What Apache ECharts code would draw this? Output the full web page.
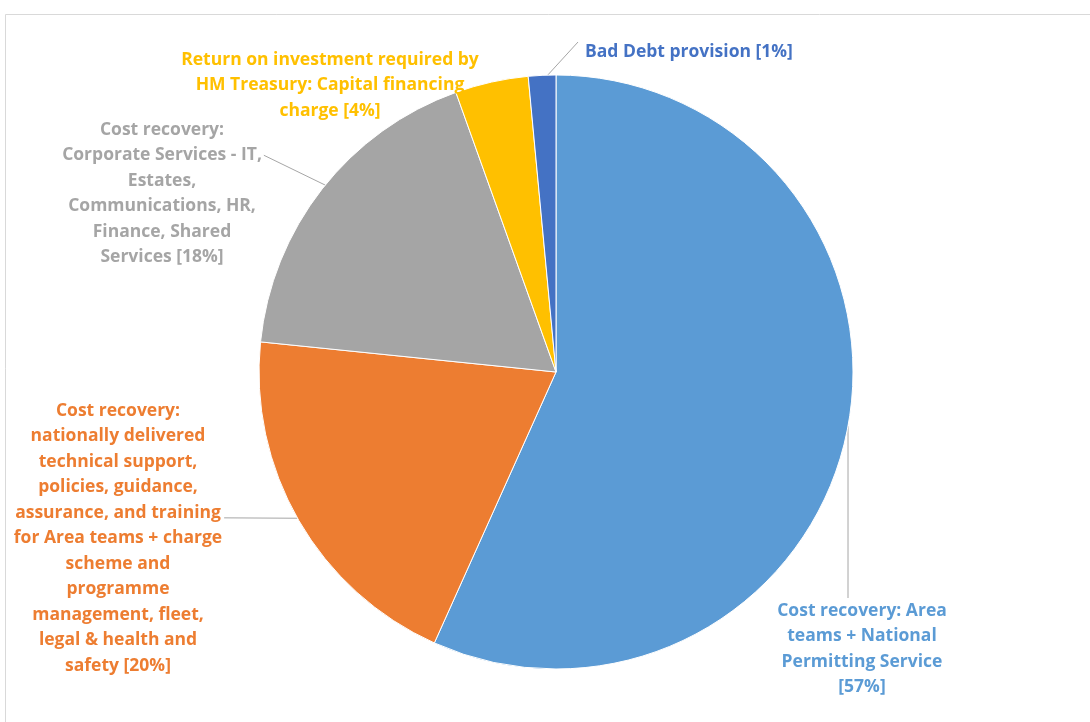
<!DOCTYPE html>
<html>
<head>
<meta charset="utf-8">
<script src="https://cdn.jsdelivr.net/npm/echarts@6/dist/echarts.min.js"></script>
<style>
  html, body { margin: 0; padding: 0; background: #fff; }
  #main { width: 1090px; height: 722px; }
</style>
</head>
<body>
<div id="main"></div>
<script>
// slice categories, clockwise from 12 o'clock
var categories = [
  'Cost recovery: Area teams + National Permitting Service',
  'Cost recovery: nationally delivered technical support, policies, guidance, assurance, and training for Area teams + charge scheme and programme management, fleet, legal & health and safety',
  'Cost recovery: Corporate Services - IT, Estates, Communications, HR, Finance, Shared Services',
  'Return on investment required by HM Treasury: Capital financing charge',
  'Bad Debt provision'
];
var shares = [57, 20, 18, 4, 1.5];
// label text as wrapped in the original
var labelLines = [
  ['Cost recovery: Area', 'teams + National', 'Permitting Service', '[57%]'],
  ['Cost recovery:', 'nationally delivered', 'technical support,', 'policies, guidance,', 'assurance, and training', 'for Area teams + charge', 'scheme and', 'programme', 'management, fleet,', 'legal & health and', 'safety [20%]'],
  ['Cost recovery:', 'Corporate Services - IT,', 'Estates,', 'Communications, HR,', 'Finance, Shared', 'Services [18%]'],
  ['Return on investment required by', 'HM Treasury: Capital financing', 'charge [4%]'],
  ['Bad Debt provision [1%]']
];
var colors = ['#5B9BD5', '#ED7D31', '#A5A5A5', '#FFC000', '#4472C4'];

var CX = 556, CY = 372, R = 297, LH = 25.5;

// where each label block sits (x, top y, alignment)
var labelPos = [
  {x: 862, y: 598, align: 'center'},
  {x: 118, y: 398, align: 'center'},
  {x: 162, y: 117, align: 'center'},
  {x: 330, y: 47, align: 'center'},
  {x: 585, y: 39, align: 'left'}
];
// leader line: angle on the rim (deg, screen), and which end of the label it meets
var leaders = [
  {angle: 10.5, end: 'top', dx: -14},
  {angle: 150.5, end: 'right', line: 4, off: 0.7},
  {angle: -141, end: 'right', line: 1, off: 0.5},
  null,
  {angle: -91.6, end: 'left', dx: -7, dy: 3}
];

var chart = echarts.init(document.getElementById('main'));

var data = [];
for (var i = 0; i < categories.length; i++) {
  data.push({
    name: categories[i],
    value: shares[i],
    itemStyle: {color: colors[i]},
    label: {
      color: colors[i],
      formatter: labelLines[i].join('\n'),
      align: labelPos[i].align
    },
    labelLine: {show: leaders[i] !== null}
  });
}

var option = {
  backgroundColor: '#fff',
  animation: false,
  graphic: [{
    type: 'rect',
    shape: {x: 5.5, y: 14.5, width: 1200, height: 800},
    style: {fill: 'none', stroke: '#d9d9d9', lineWidth: 1},
    silent: true
  }],
  series: [{
    type: 'pie',
    center: [CX, CY],
    radius: R,
    startAngle: 90,
    clockwise: true,
    data: data,
    itemStyle: {borderColor: '#fff', borderWidth: 1},
    label: {
      show: true,
      position: 'outside',
      fontFamily: 'Open Sans',
      fontWeight: 'bold',
      fontSize: 17.5,
      lineHeight: LH
    },
    labelLine: {
      show: true,
      lineStyle: {color: '#a6a6a6', width: 1}
    },
    labelLayout: function (params) {
      var i = params.dataIndex;
      var p = labelPos[i];
      var out = {x: p.x, y: p.y, align: p.align, verticalAlign: 'top'};
      var ld = leaders[i];
      if (ld) {
        var a = ld.angle * Math.PI / 180;
        var start = [CX + R * Math.cos(a), CY + R * Math.sin(a)];
        var w = params.labelRect.width;
        var end;
        if (ld.end === 'right') {
          end = [p.x + w / 2 + 2, p.y + (ld.line + ld.off) * LH];
        } else if (ld.end === 'top') {
          end = [p.x + ld.dx, p.y];
        } else {
          end = [p.x + ld.dx, p.y + ld.dy];
        }
        out.labelLinePoints = [start, start, end];
      }
      return out;
    }
  }]
};

chart.setOption(option);
</script>
</body>
</html>
